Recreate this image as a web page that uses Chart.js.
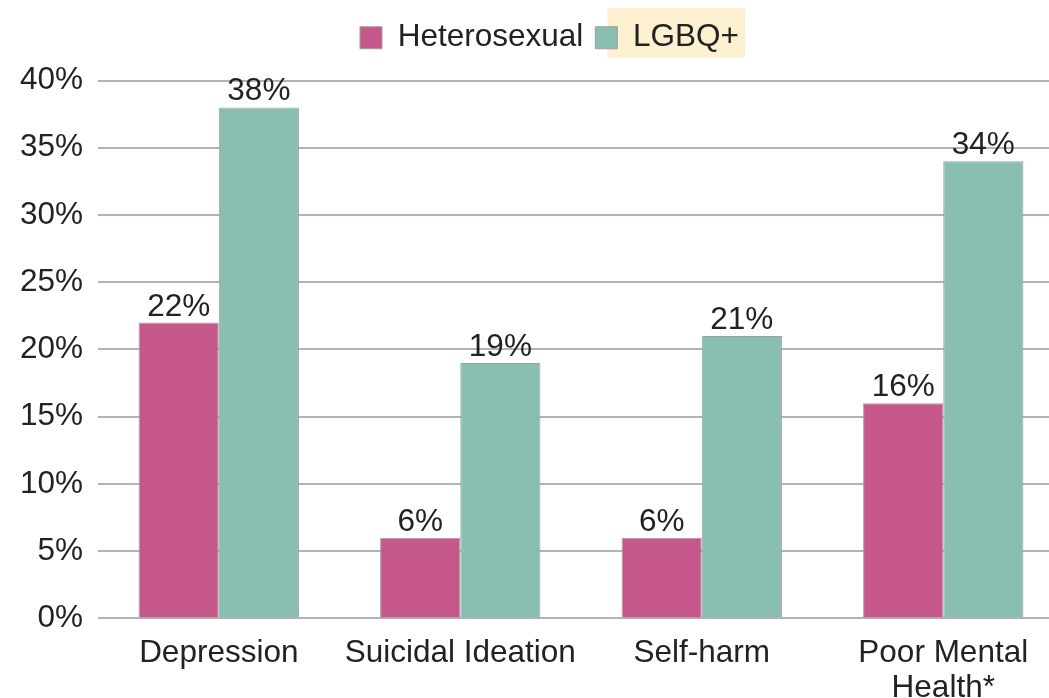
<!DOCTYPE html>
<html>
<head>
<meta charset="utf-8">
<script src="https://cdn.jsdelivr.net/npm/chart.js@4.4.1/dist/chart.umd.min.js"></script>
<style>
  html, body { margin: 0; padding: 0; background: #fff; overflow: hidden; }
  #wrap { width: 1049px; height: 698px; overflow: hidden; }
</style>
</head>
<body>
<div id="wrap">
  <canvas id="myChart" width="1064" height="715"></canvas>
</div>
<script>
const categories = ['Depression', 'Suicidal Ideation', 'Self-harm', ['Poor Mental', 'Health*']];
const heterosexual = [22, 6, 6, 16];
const lgbq = [38, 19, 21, 34];
const yTicks = [0, 5, 10, 15, 20, 25, 30, 35, 40];

const FONT = "'Liberation Sans', Arial, sans-serif";
const ctx = document.getElementById('myChart');

// value labels on top of each bar
const barLabels = {
  id: 'barLabels',
  afterDatasetsDraw(chart) {
    const c = chart.ctx;
    c.save();
    c.font = '31.5px ' + FONT;
    c.fillStyle = '#222';
    c.textAlign = 'center';
    c.textBaseline = 'bottom';
    chart.data.datasets.forEach((ds, i) => {
      chart.getDatasetMeta(i).data.forEach((bar, j) => {
        c.fillText(ds.data[j] + '%', bar.x, bar.y);
      });
    });
    c.restore();
  }
};

// pale yellow highlight behind the second legend entry
const legendMark = {
  id: 'legendMark',
  beforeDraw(chart) {
    const boxes = chart.legend && chart.legend.legendHitBoxes;
    if (!boxes || !boxes[1]) return;
    const hb = boxes[1];
    const c = chart.ctx;
    c.save();
    c.fillStyle = '#fdf0d0';
    const mid = hb.top + hb.height / 2;
    c.fillRect(hb.left + 12, mid - 30, hb.width - 6, 50);
    c.restore();
  }
};

// extra room under the legend, and nudge it right a bit
const legendGap = {
  id: 'legendGap',
  beforeInit(chart) {
    const fit = chart.legend.fit;
    chart.legend.fit = function() {
      fit.bind(chart.legend)();
      this.height += 17;
    };
  },
  afterLayout(chart) {
    chart.legend.left += 15;
    chart.legend.right += 15;
  }
};

const chart = new Chart(ctx, {
  type: 'bar',
  data: {
    labels: categories,
    datasets: [{
      label: 'Heterosexual',
      data: heterosexual,
      backgroundColor: '#c5578b',
      borderColor: '#a0a0a0',
      borderWidth: 1
    }, {
      label: 'LGBQ+',
      data: lgbq,
      backgroundColor: '#89bfb1',
      borderColor: '#a0a0a0',
      borderWidth: 1
    }]
  },
  options: {
    responsive: false,
    animation: false,
    layout: {
      padding: { top: 10, left: 5, right: 0, bottom: 0 }
    },
    datasets: {
      bar: { categoryPercentage: 0.664, barPercentage: 1 }
    },
    scales: {
      x: {
        grid: { display: false },
        border: { display: false },
        ticks: {
          color: '#222',
          font: { family: FONT, size: 31.5, lineHeight: 1.12 },
          padding: 9,
          maxRotation: 0,
          autoSkip: false
        }
      },
      y: {
        min: 0,
        max: 40,
        afterBuildTicks(axis) {
          axis.ticks = yTicks.map(v => ({ value: v }));
        },
        grid: { color: '#b2b2ba', lineWidth: 2, drawTicks: false },
        border: { display: false },
        ticks: {
          color: '#222',
          font: { family: FONT, size: 31.5 },
          padding: 15,
          callback: v => v + '%'
        }
      }
    },
    plugins: {
      tooltip: { enabled: false },
      legend: {
        position: 'top',
        labels: {
          color: '#222',
          font: { family: FONT, size: 31.5 },
          boxWidth: 22,
          boxHeight: 22,
          padding: 12
        }
      }
    }
  },
  plugins: [legendGap, barLabels, legendMark]
});
</script>
</body>
</html>
